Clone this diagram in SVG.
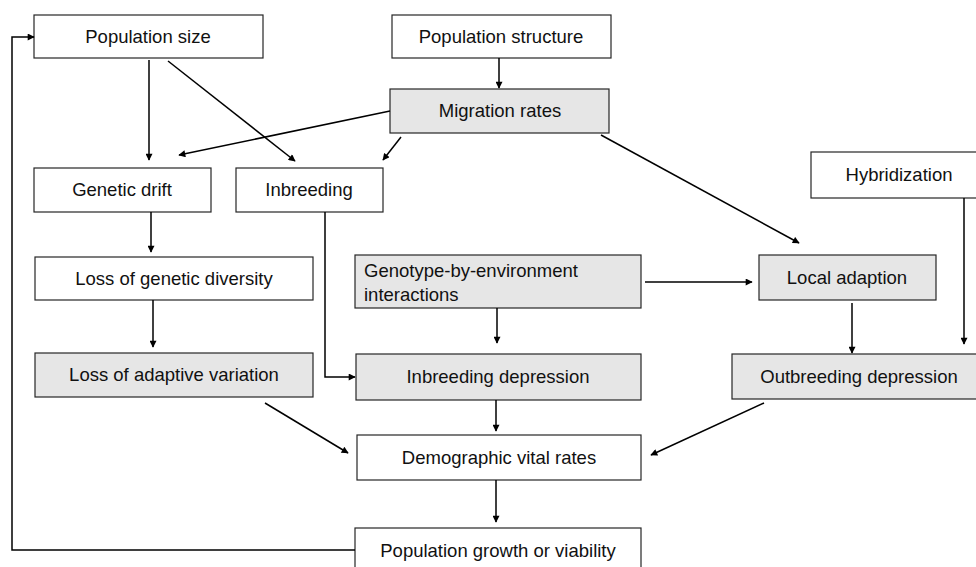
<svg xmlns="http://www.w3.org/2000/svg" width="976" height="567" viewBox="0 0 976 567">
<style>
.box{fill:#ffffff;stroke:#262626;stroke-width:1.2}
.g{fill:#e6e6e6}
.t{font-family:"Liberation Sans",Arial,sans-serif;font-size:18.5px;fill:#111;text-anchor:middle}
.tl{text-anchor:start}
.c{fill:none;stroke:#000;stroke-width:1.5}
</style>
<defs>
<marker id="ah" viewBox="0 0 10 10" refX="9" refY="5" markerWidth="8" markerHeight="7" markerUnits="userSpaceOnUse" orient="auto">
<path d="M0,0 L10,5 L0,10 z" fill="#000"/>
</marker>
</defs>
<rect width="976" height="567" fill="#ffffff"/>
<g id="pop-size"><rect class="box" x="34" y="15" width="229" height="43"/><text class="t" x="148" y="43">Population size</text></g>
<g id="pop-structure"><rect class="box" x="392" y="15" width="219" height="43"/><text class="t" x="501" y="43">Population structure</text></g>
<g id="migration"><rect class="box g" x="390" y="89" width="219" height="44"/><text class="t" x="500" y="117">Migration rates</text></g>
<g id="drift"><rect class="box" x="34" y="168" width="177" height="44"/><text class="t" x="122" y="196">Genetic drift</text></g>
<g id="inbreeding"><rect class="box" x="236" y="168" width="147" height="44"/><text class="t" x="309" y="196">Inbreeding</text></g>
<g id="hybridization"><rect class="box" x="811" y="152" width="176" height="46"/><text class="t" x="899" y="181">Hybridization</text></g>
<g id="gxe"><rect class="box g" x="355" y="255" width="286" height="53"/><text class="t tl" x="364" y="277">Genotype-by-environment</text><text class="t tl" x="364" y="301">interactions</text></g>
<g id="local"><rect class="box g" x="759" y="255" width="177" height="45"/><text class="t" x="847" y="284">Local adaption</text></g>
<g id="loss-div"><rect class="box" x="35" y="257" width="278" height="43"/><text class="t" x="174" y="285">Loss of genetic diversity</text></g>
<g id="loss-adapt"><rect class="box g" x="35" y="353" width="278" height="44"/><text class="t" x="174" y="381">Loss of adaptive variation</text></g>
<g id="inb-dep"><rect class="box g" x="356" y="354" width="285" height="46"/><text class="t" x="498" y="383">Inbreeding depression</text></g>
<g id="outb-dep"><rect class="box g" x="732" y="354" width="255" height="45"/><text class="t" x="859" y="383">Outbreeding depression</text></g>
<g id="demographic"><rect class="box" x="357" y="435" width="284" height="45"/><text class="t" x="499" y="464">Demographic vital rates</text></g>
<g id="growth"><rect class="box" x="355" y="528" width="286" height="45"/><text class="t" x="498" y="557">Population growth or viability</text></g>
<g id="connectors">
<line class="c" x1="149" y1="60" x2="149" y2="160" marker-end="url(#ah)"/>
<line class="c" x1="168" y1="61" x2="295" y2="161" marker-end="url(#ah)"/>
<line class="c" x1="499" y1="58" x2="499" y2="88" marker-end="url(#ah)"/>
<line class="c" x1="390" y1="111" x2="179" y2="155" marker-end="url(#ah)"/>
<line class="c" x1="401" y1="137" x2="383" y2="160" marker-end="url(#ah)"/>
<line class="c" x1="601" y1="135" x2="799" y2="243" marker-end="url(#ah)"/>
<line class="c" x1="964" y1="198" x2="964" y2="344" marker-end="url(#ah)"/>
<line class="c" x1="645" y1="282" x2="752" y2="282" marker-end="url(#ah)"/>
<line class="c" x1="852" y1="303" x2="852" y2="353" marker-end="url(#ah)"/>
<line class="c" x1="151" y1="212" x2="151" y2="252" marker-end="url(#ah)"/>
<line class="c" x1="153" y1="300" x2="153" y2="347" marker-end="url(#ah)"/>
<polyline class="c" points="325,212 325,377 355,377" marker-end="url(#ah)"/>
<line class="c" x1="497" y1="308" x2="497" y2="343" marker-end="url(#ah)"/>
<line class="c" x1="265" y1="403" x2="348" y2="453" marker-end="url(#ah)"/>
<line class="c" x1="496" y1="400" x2="496" y2="431" marker-end="url(#ah)"/>
<line class="c" x1="764" y1="403" x2="651" y2="455" marker-end="url(#ah)"/>
<line class="c" x1="496" y1="480" x2="496" y2="522" marker-end="url(#ah)"/>
<polyline class="c" points="355,550 12,550 12,37 34,37" marker-end="url(#ah)"/>
</g>
</svg>
